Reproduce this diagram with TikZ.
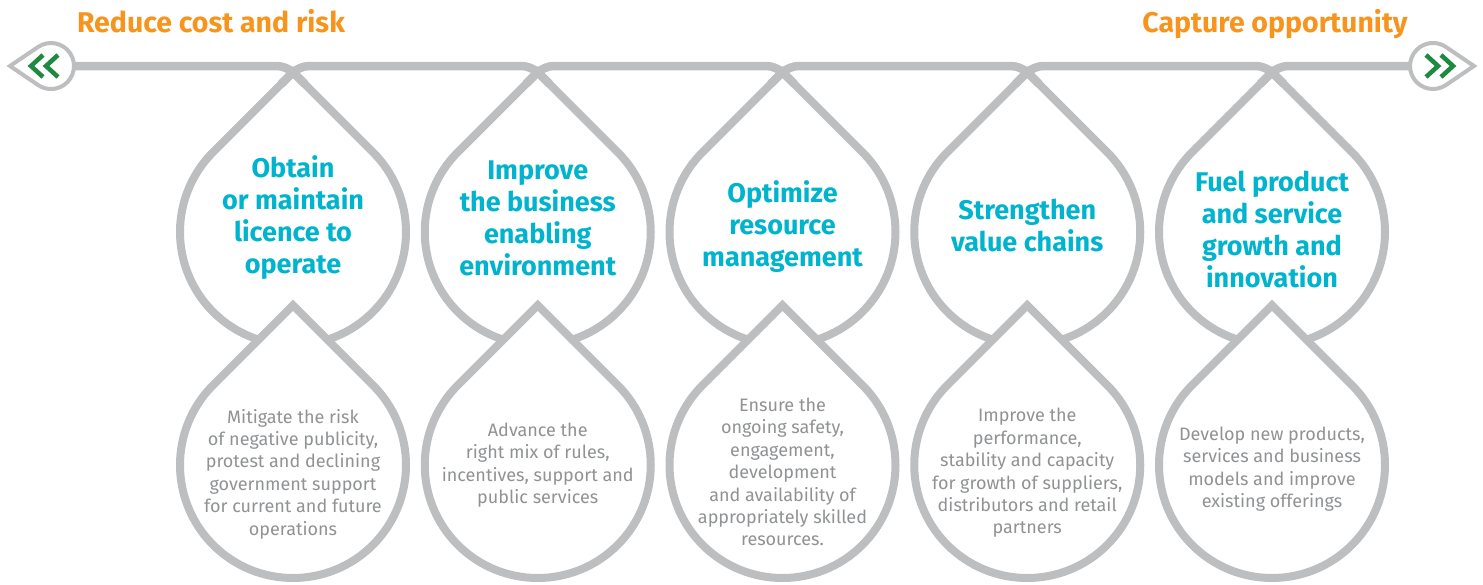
\documentclass[tikz,border=0pt]{standalone}
\usepackage{fontspec}
\setmainfont{Fira Sans}
\usetikzlibrary{calc}
\definecolor{linegray}{HTML}{BCBEC0}
\definecolor{headcyan}{HTML}{00B4CD}
\definecolor{headorange}{HTML}{F7941E}
\definecolor{arrowgreen}{HTML}{1D8A3F}
\definecolor{bodygray}{HTML}{909294}
% teardrop: style, tip (x,y), centre (x,y), radius
\newcommand\mydropshape[6]{%
  \pgfmathsetmacro\myal{asin(#6/veclen(#4-#2,#5-#3))}%
  \pgfmathsetmacro\myth{atan2(#3-#5,#2-#4)}%
  \pgfmathsetmacro\mysa{\myth+90-\myal}%
  \pgfmathsetmacro\myea{\myth+270+\myal}%
  \path[#1] (#2,#3) -- ($(#4,#5)+(\mysa:#6)$) arc[start angle=\mysa, end angle=\myea, radius=#6] -- cycle;}
\begin{document}
\begin{tikzpicture}[x=1pt,y=-1pt,
  dropline/.style={draw=linegray, line width=8pt, fill=white},
  endline/.style={draw=linegray, line width=4pt, fill=white},
  barline/.style={draw=linegray, line width=8.5pt, rounded corners=10pt},
  chev/.style={draw=arrowgreen, line width=4.5pt},
  headtext/.style={text=headcyan, align=center, font=\bfseries\fontsize{27}{32}\selectfont},
  bodytext/.style={text=bodygray, align=center, font=\fontsize{18}{22.4}\selectfont},
  titletext/.style={text=headorange, anchor=base, font=\bfseries\fontsize{28.5}{32}\selectfont}]
\useasboundingbox (0,0) rectangle (1483,584);
\def\ru{113}
\def\hy{66}
\coordinate (la) at (74,\hy);
\coordinate (ra) at (1410,\hy);
% upper drops
\foreach \i/\cx in {1/293,2/537.75,3/782.5,4/1027.25,5/1272}{
  \mydropshape{dropline}{\cx}{72.2}{\cx}{232}{\ru}
  \coordinate (T\i) at (\cx,72.2);
}
% connecting bar
\draw[barline] (la) -- ($(T1)+(-6,-6.2)$) -- ($(T1)+(12,12)$);
\foreach \a/\b in {1/2,2/3,3/4,4/5}{
  \draw[barline] ($(T\a)+(-12,12)$) -- ($(T\a)+(6,-6.2)$) -- ($(T\b)+(-6,-6.2)$) -- ($(T\b)+(12,12)$);
}
\draw[barline] ($(T5)+(-12,12)$) -- ($(T5)+(6,-6.2)$) -- (ra);
% lower drops
\foreach \cx in {293,537.75,782.5,1027.25,1272}{
  \mydropshape{dropline}{\cx}{305.2}{\cx}{465}{\ru}
}
% end arrows
\mydropshape{endline}{10}{66}{51}{66}{23}
\mydropshape{endline}{1474}{66}{1433}{66}{23}
\draw[chev] (43,55) -- (31,66) -- (43,77);
\draw[chev] (58,55) -- (46,66) -- (58,77);
\draw[chev] (1426,55) -- (1438,66) -- (1426,77);
\draw[chev] (1441,55) -- (1453,66) -- (1441,77);
% titles
\node[titletext] (lt) at (211,32) {Reduce cost and risk};
\node[titletext] (rt) at (1275,32) {Capture opportunity};
% headings
\node[headtext] (h1) at (293,218) {Obtain\\or maintain\\licence to\\operate};
\node[headtext] (h2) at (537.75,218) {Improve\\the business\\enabling\\environment};
\node[headtext] (h3) at (782.5,227) {Optimize\\resource\\management};
\node[headtext] (h4) at (1027.25,225) {Strengthen\\value chains};
\node[headtext] (h5) at (1272,229) {Fuel product\\and service\\growth and\\innovation};
% body texts
\node[bodytext] (b1) at (293,474) {Mitigate the risk\\of negative publicity,\\protest and declining\\government support\\for current and future\\operations};
\node[bodytext] (b2) at (537.75,465) {Advance the\\right mix of rules,\\incentives, support and\\public services};
\node[bodytext] (b3) at (782.5,472) {Ensure the\\ongoing safety,\\engagement,\\development\\and availability of\\appropriately skilled\\resources.};
\node[bodytext] (b4) at (1027.25,473) {Improve the\\performance,\\stability and capacity\\for growth of suppliers,\\distributors and retail\\partners};
\node[bodytext] (b5) at (1272,469) {Develop new products,\\services and business\\models and improve\\existing offerings};
\end{tikzpicture}
\end{document}
